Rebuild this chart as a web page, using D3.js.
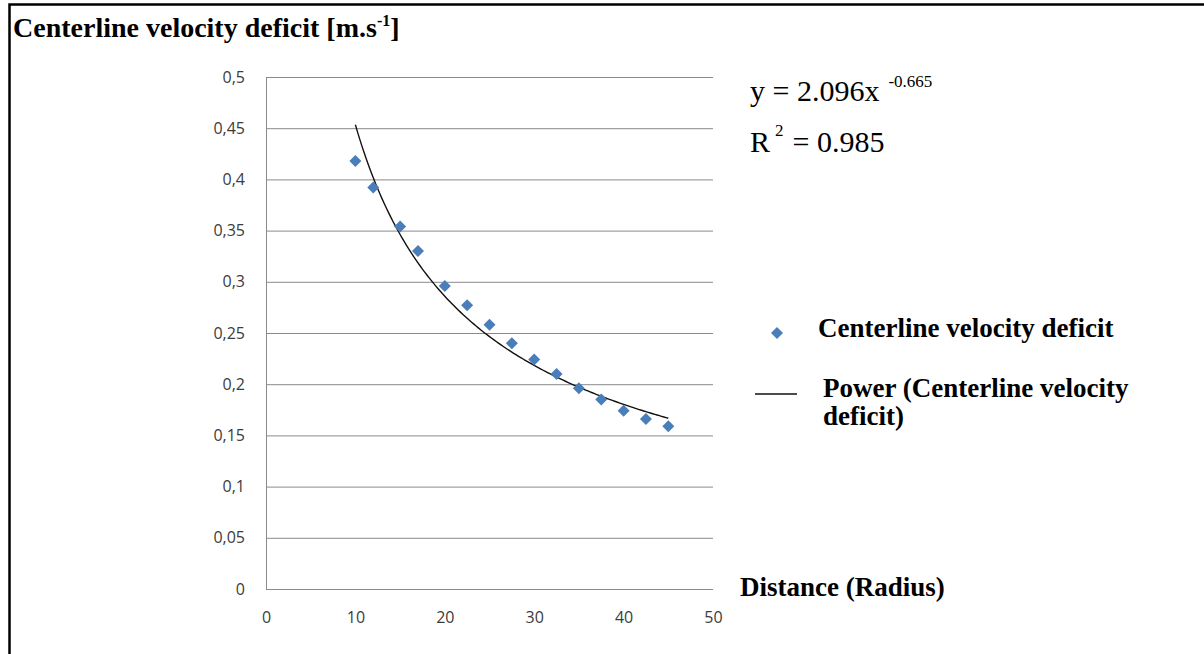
<!DOCTYPE html>
<html>
<head>
<meta charset="utf-8">
<script src="https://cdn.jsdelivr.net/npm/d3@7"></script>
<style>
  body { margin: 0; background: #fff; }
</style>
</head>
<body>
<svg class="chart" width="1204" height="654"></svg>
<script>
// Centerline velocity deficit vs distance, with power trendline

var distance = [10, 12, 15, 17, 20, 22.5, 25, 27.5, 30, 32.5, 35, 37.5, 40, 42.5, 45];
var deficit = [0.418, 0.392, 0.354, 0.330, 0.296, 0.277, 0.258, 0.240, 0.224, 0.210, 0.196, 0.185, 0.174, 0.166, 0.159];

var yTicks = [0, 0.05, 0.1, 0.15, 0.2, 0.25, 0.3, 0.35, 0.4, 0.45, 0.5];
var yTickLabels = ["0", "0,05", "0,1", "0,15", "0,2", "0,25", "0,3", "0,35", "0,4", "0,45", "0,5"];
var xTicks = [0, 10, 20, 30, 40, 50];

// power fit shown on the chart: y = a * x^b
var trendA = 2.096, trendB = -0.665, trendR2 = 0.985;

var svg = d3.select(".chart");

// outer frame (right and bottom edges fall outside the picture)
svg.append("rect")
    .attr("x", 9.5)
    .attr("y", 4.5)
    .attr("width", 1210)
    .attr("height", 670)
    .attr("fill", "none")
    .attr("stroke", "#000")
    .attr("stroke-width", 2.5);

var x = d3.scaleLinear().domain([0, 50]).range([266, 713]);
var y = d3.scaleLinear().domain([0, 0.5]).range([589, 77]);

var tickFont = "'Open Sans', sans-serif";
var serif = "'Liberation Serif', 'Times New Roman', serif";

// y axis + horizontal gridlines
var yAxis = svg.append("g")
    .attr("transform", "translate(" + x(0) + ",0)")
    .call(d3.axisLeft(y)
        .tickValues(yTicks)
        .tickSize(-(x(50) - x(0)))
        .tickSizeOuter(0)
        .tickPadding(21)
        .tickFormat(function (d, i) { return yTickLabels[i]; }));
yAxis.selectAll("line").attr("stroke", "#8a8a8a");
yAxis.select(".domain").attr("stroke", "#8a8a8a");
yAxis.selectAll("text")
    .attr("font-family", tickFont)
    .attr("font-size", "16px")
    .attr("fill", "#3c3c3c");

// x axis labels only (the 0 gridline is the axis line)
var xAxis = svg.append("g")
    .attr("transform", "translate(0," + y(0) + ")")
    .call(d3.axisBottom(x).tickValues(xTicks).tickSize(0).tickPadding(23));
xAxis.select(".domain").remove();
xAxis.selectAll("text")
    .attr("font-family", tickFont)
    .attr("font-size", "16px")
    .attr("fill", "#3c3c3c");

// trendline
var trendX = d3.range(distance[0], distance[distance.length - 1] + 0.01, 0.25);
svg.append("path")
    .datum(trendX)
    .attr("fill", "none")
    .attr("stroke", "#111")
    .attr("stroke-width", 1.4)
    .attr("d", d3.line()
        .x(function (d) { return x(d); })
        .y(function (d) { return y(trendA * Math.pow(d, trendB)); }));

// data points (diamonds)
var diamond = d3.symbol().type(d3.symbolSquare).size(72);
svg.selectAll(".pt")
    .data(distance)
    .enter().append("path")
    .attr("class", "pt")
    .attr("d", diamond)
    .attr("fill", "#4a7ebb")
    .attr("transform", function (d, i) {
        return "translate(" + x(d) + "," + y(deficit[i]) + ") rotate(45)";
    });

// title
var title = svg.append("text")
    .attr("x", 13)
    .attr("y", 37)
    .attr("font-family", serif)
    .attr("font-weight", "bold")
    .attr("font-size", "28px")
    .attr("fill", "#000");
title.append("tspan").text("Centerline velocity deficit [m.s");
title.append("tspan").attr("dy", -11).attr("font-size", "16px").text("-1");
title.append("tspan").attr("dy", 11).text("]");

// equation
var eq = svg.append("text")
    .attr("x", 750)
    .attr("y", 101)
    .attr("font-family", serif)
    .attr("font-size", "30px")
    .attr("fill", "#000");
eq.append("tspan").text("y = " + trendA + "x");
eq.append("tspan").attr("dx", 9).attr("dy", -14).attr("font-size", "17px").text(String(trendB));

var r2 = svg.append("text")
    .attr("x", 750)
    .attr("y", 152)
    .attr("font-family", serif)
    .attr("font-size", "30px")
    .attr("fill", "#000");
r2.append("tspan").text("R");
r2.append("tspan").attr("dx", 5).attr("dy", -16).attr("font-size", "17px").text("2");
r2.append("tspan").attr("dx", 9).attr("dy", 16).text("= " + trendR2);

// legend
svg.append("path")
    .attr("d", diamond)
    .attr("fill", "#4a7ebb")
    .attr("transform", "translate(777,333) rotate(45)");
svg.append("text")
    .attr("x", 818)
    .attr("y", 337)
    .attr("font-family", serif)
    .attr("font-weight", "bold")
    .attr("font-size", "27px")
    .text("Centerline velocity deficit");

svg.append("line")
    .attr("x1", 755).attr("x2", 797)
    .attr("y1", 394).attr("y2", 394)
    .attr("stroke", "#111")
    .attr("stroke-width", 1.5);
var leg2 = svg.append("text")
    .attr("font-family", serif)
    .attr("font-weight", "bold")
    .attr("font-size", "27px");
leg2.append("tspan").attr("x", 823).attr("y", 397).text("Power (Centerline velocity");
leg2.append("tspan").attr("x", 823).attr("y", 425).text("deficit)");

// x axis title
svg.append("text")
    .attr("x", 740)
    .attr("y", 596)
    .attr("font-family", serif)
    .attr("font-weight", "bold")
    .attr("font-size", "27px")
    .text("Distance (Radius)");
</script>
</body>
</html>
